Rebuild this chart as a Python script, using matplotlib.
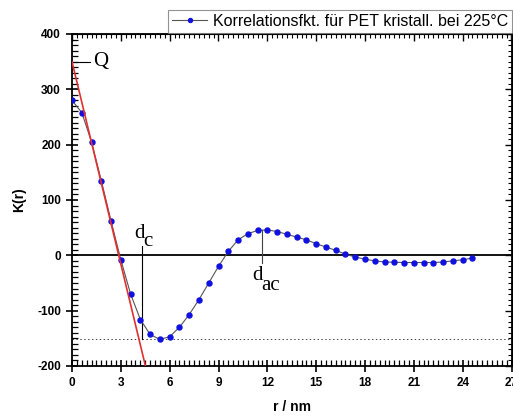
import numpy as np
import matplotlib
matplotlib.use("Agg")
import matplotlib.pyplot as plt
from matplotlib.ticker import MultipleLocator

plt.rcParams['font.family'] = ['Liberation Sans', 'DejaVu Sans']
plt.rcParams['axes.unicode_minus'] = False

# correlation function K(r)
r_nm = [0.0, 0.6, 1.2, 1.8, 2.4, 3.0, 3.6, 4.2, 4.8, 5.4, 6.0, 6.6, 7.2, 7.8,
        8.4, 9.0, 9.6, 10.2, 10.8, 11.4, 12.0, 12.6, 13.2, 13.8, 14.4, 15.0,
        15.6, 16.2, 16.8, 17.4, 18.0, 18.6, 19.2, 19.8, 20.4, 21.0, 21.6,
        22.2, 22.8, 23.4, 24.0, 24.6]
k_r = [280, 258, 205, 135, 62, -8, -70, -116, -143, -152, -147, -130, -107,
       -80, -50, -20, 7, 28, 39, 45, 46, 43, 38, 33, 28, 21, 15, 9, 2, -3,
       -7, -10, -12, -12.5, -13, -13, -13, -13, -12, -10, -8, -5]

# tangent at r=0 (red line)
tangent_r = [0.0, 4.7]
tangent_k = [350, -223]

q_value = 350
k_min = -152
d_c = 4.27
d_ac = 11.65
k_max = 46

legend_label = "Korrelationsfkt. für PET kristall. bei 225°C"

fig = plt.figure(figsize=(5.13, 4.17), dpi=100)
ax = fig.add_axes([72 / 513, 51 / 417, 439.5 / 513, 332 / 417])

ax.plot(r_nm, k_r, '-', color='#555555', lw=0.8, marker='o', ms=3.6,
        mfc='#1010e0', mec='#1010e0', label=legend_label, zorder=3)
ax.plot(tangent_r, tangent_k, color='#e03030', lw=1.2, zorder=4)

ax.axhline(0, color='black', lw=1.3, zorder=2)
ax.axhline(k_min, color='#444444', lw=0.7, ls=(0, (1.5, 2.5)), zorder=1)

# Q marker
ax.plot([0, 1.1], [q_value, q_value], color='black', lw=0.8)
ax.text(1.3, q_value, "Q", family='Liberation Serif', fontsize=15,
        va='center', ha='left')

# d_c
ax.plot([d_c, d_c], [k_min, 17], color='black', lw=0.8)
ax.text(3.8, 32, "d", family='Liberation Serif', fontsize=15, ha='left', va='baseline')
ax.text(4.35, 16, "c", family='Liberation Serif', fontsize=15, ha='left', va='baseline')

# d_ac
ax.plot([d_ac, d_ac], [k_max, -13], color='#444444', lw=0.8)
ax.text(11.05, -45, "d", family='Liberation Serif', fontsize=15, ha='left', va='baseline')
ax.text(11.6, -62, "ac", family='Liberation Serif', fontsize=15, ha='left', va='baseline')

ax.set_xlim(0, 27)
ax.set_ylim(-200, 400)
ax.xaxis.set_major_locator(MultipleLocator(3))
ax.xaxis.set_minor_locator(MultipleLocator(0.3))
ax.yaxis.set_major_locator(MultipleLocator(100))
ax.yaxis.set_minor_locator(MultipleLocator(10))
ax.tick_params(which='major', direction='inout', length=8, width=1.2,
               labelsize=8.5, pad=4)
ax.tick_params(which='minor', direction='in', length=4, width=0.9)
for lab in ax.get_xticklabels() + ax.get_yticklabels():
    lab.set_fontweight('bold')
for sp in ax.spines.values():
    sp.set_linewidth(1.3)

top = ax.secondary_xaxis('top')
top.xaxis.set_major_locator(MultipleLocator(3))
top.xaxis.set_minor_locator(MultipleLocator(0.3))
top.tick_params(which='major', direction='in', length=5, width=1.0, labeltop=False)
top.tick_params(which='minor', direction='in', length=3, width=0.8)
right = ax.secondary_yaxis('right')
right.yaxis.set_major_locator(MultipleLocator(100))
right.yaxis.set_minor_locator(MultipleLocator(10))
right.tick_params(which='major', direction='in', length=5, width=1.0, labelright=False)
right.tick_params(which='minor', direction='in', length=3, width=0.8)

ax.set_xlabel("r / nm", fontsize=10, fontweight='bold', labelpad=8)
ax.set_ylabel("K(r)", fontsize=10, fontweight='bold', labelpad=8)

leg = ax.legend(loc='lower left', bbox_to_anchor=(168 / 513, 384 / 417),
                bbox_transform=fig.transFigure, fontsize=11.5, frameon=True,
                fancybox=False, edgecolor='#777777', borderpad=0.25,
                handlelength=2.2, handletextpad=0.35, borderaxespad=0,
                markerscale=0.8)
leg.get_frame().set_linewidth(0.8)

fig.savefig("out.png", dpi=100)
